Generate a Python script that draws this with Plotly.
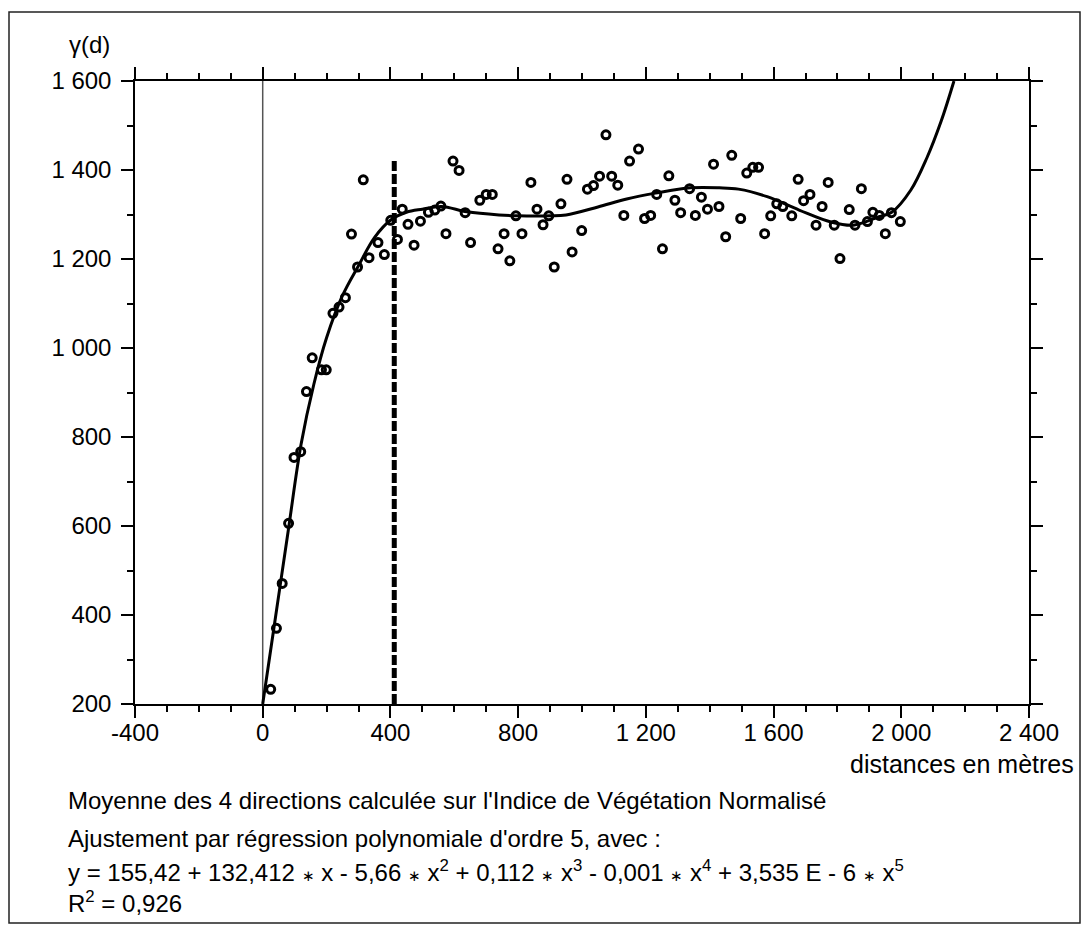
import plotly.graph_objects as go

# ---------------- data ----------------
lag_m = [25, 43, 61, 81, 98, 119, 137, 155, 184, 199,
         220, 239, 259, 278, 297, 315, 333, 361, 381, 401,
         422, 437, 455, 474, 494, 519, 539, 558, 574, 596,
         615, 634, 651, 680, 700, 719, 737, 756, 774, 793,
         812, 840, 859, 878, 896, 913, 934, 953, 969, 999,
         1017, 1036, 1055, 1075, 1093, 1112, 1131, 1149, 1177, 1196,
         1215, 1234, 1252, 1272, 1291, 1309, 1337, 1355, 1374, 1393,
         1412, 1429, 1450, 1469, 1497, 1516, 1535, 1553, 1572, 1591,
         1610, 1629, 1657, 1677, 1694, 1714, 1733, 1752, 1771, 1790,
         1808, 1837, 1855, 1875, 1894, 1911, 1931, 1950, 1969, 1997]
gamma = [233, 370, 471, 606, 754, 767, 902, 978, 951, 951,
         1078, 1092, 1113, 1256, 1182, 1378, 1203, 1237, 1210, 1287,
         1244, 1312, 1278, 1231, 1285, 1305, 1310, 1319, 1257, 1420,
         1399, 1304, 1237, 1332, 1345, 1345, 1223, 1257, 1196, 1297,
         1257, 1372, 1312, 1277, 1297, 1182, 1324, 1379, 1216, 1264,
         1357, 1365, 1386, 1479, 1386, 1366, 1298, 1420, 1447, 1291,
         1298, 1345, 1223, 1387, 1332, 1304, 1358, 1298, 1339, 1312,
         1413, 1318, 1250, 1433, 1291, 1393, 1406, 1406, 1257, 1297,
         1324, 1318, 1297, 1379, 1331, 1345, 1276, 1318, 1372, 1276,
         1201, 1311, 1276, 1358, 1284, 1305, 1298, 1257, 1304, 1284]

# fitted polynomial curve
fit_x = [0, 40, 80, 120, 160, 200, 250, 300, 350, 400, 450, 500, 560, 640,
         740, 800, 900, 950, 1050, 1140, 1230, 1340, 1430, 1490, 1580, 1680,
         1780, 1850, 1930, 1970, 2030, 2080, 2125, 2165]
fit_y = [200, 395, 590, 783, 918, 1023, 1118, 1185, 1248, 1287, 1305, 1312,
         1318, 1306, 1299, 1297, 1297, 1299, 1317, 1335, 1348, 1360, 1360,
         1357, 1340, 1310, 1283, 1276, 1295, 1305, 1355, 1427, 1510, 1600]

zero_x = 0          # vertical reference line at origin
range_x = 412       # range of the variogram (dashed line)
range_top = 1425

x_tickvals = [-400, 0, 400, 800, 1200, 1600, 2000, 2400]
x_ticktext = ["-400", "0", "400", "800", "1 200", "1 600", "2 000", "2 400"]
y_tickvals = [200, 400, 600, 800, 1000, 1200, 1400, 1600]
y_ticktext = ["200", "400", "600", "800", "1 000", "1 200", "1 400", "1 600"]

FONT = "Liberation Sans"
TICK_SIZE = 24
TEXT_SIZE = 24

fig = go.Figure()

fig.add_trace(go.Scatter(x=[zero_x, zero_x], y=[200, 1600], mode="lines",
                         line=dict(color="#555555", width=1.5),
                         hoverinfo="skip", showlegend=False))
fig.add_trace(go.Scatter(x=[range_x, range_x], y=[200, range_top], mode="lines",
                         line=dict(color="black", width=5, dash="10px,3px"),
                         hoverinfo="skip", showlegend=False))
fig.add_trace(go.Scatter(x=lag_m, y=gamma, mode="markers",
                         marker=dict(symbol="circle-open", size=8, color="black",
                                     line=dict(width=3, color="black")),
                         showlegend=False))
fig.add_trace(go.Scatter(x=fit_x, y=fit_y, mode="lines",
                         line=dict(color="black", width=3, shape="spline", smoothing=1.0),
                         showlegend=False))

axis_common = dict(showline=True, linecolor="black", linewidth=1.5, mirror="allticks",
                   ticks="outside", ticklen=12, tickwidth=1.5, tickcolor="black",
                   showgrid=False, zeroline=False,
                   tickfont=dict(family=FONT, size=TICK_SIZE, color="black"))

fig.update_xaxes(range=[-400, 2400], tickvals=x_tickvals, ticktext=x_ticktext,
                 minor=dict(dtick=100, tick0=0, ticks="outside", ticklen=6,
                            tickwidth=1.5, tickcolor="black", showgrid=False),
                 ticklabelstandoff=-6,
                 **axis_common)
fig.update_yaxes(range=[200, 1600], tickvals=y_tickvals, ticktext=y_ticktext,
                 minor=dict(dtick=100, tick0=0, ticks="outside", ticklen=6,
                            tickwidth=1.5, tickcolor="black", showgrid=False),
                 ticklabelstandoff=5,
                 **axis_common)

OFF = 8   # page body margin
W, H = 1081, 924
L, R, T, B = 127, 60, 73, 228
pw, ph = W - L - R, H - T - B


def px_x(p):
    return (p - OFF - L) / pw


def px_y(p):
    return (H - B - (p - OFF)) / ph


fig.add_shape(type="rect", xref="paper", yref="paper",
              x0=px_x(9), x1=px_x(1080), y0=px_y(923), y1=px_y(12),
              line=dict(color="#222222", width=1.5), fillcolor="rgba(0,0,0,0)")

tf = dict(family=FONT, size=TEXT_SIZE, color="black")
fig.add_annotation(text="γ(d)", xref="paper", yref="paper", x=px_x(112), y=px_y(45),
                   xanchor="right", yanchor="middle", showarrow=False, font=tf)
fig.add_annotation(text="distances en mètres", xref="paper", yref="paper",
                   x=px_x(1076), y=px_y(764), xanchor="right", yanchor="middle",
                   showarrow=False, font=dict(family=FONT, size=25, color="black"))

star = "<span style='font-size:15px'>∗</span>"
eq = ("y = 155,42 + 132,412 " + star + " x - 5,66 " + star + " x<sup>2</sup> + 0,112 "
      + star + " x<sup>3</sup> - 0,001 " + star + " x<sup>4</sup> + 3,535 E - 6 "
      + star + " x<sup>5</sup>")
lines = [
    ("Moyenne des 4 directions calculée sur l'Indice de Végétation Normalisé", 800),
    ("Ajustement par régression polynomiale d'ordre 5, avec :", 838),
    (eq, 871),
    ("R<sup>2</sup> = 0,926", 902),
]
for txt, yy in lines:
    fig.add_annotation(text=txt, xref="paper", yref="paper", x=px_x(66), y=px_y(yy),
                       xanchor="left", yanchor="middle", showarrow=False, font=tf)

fig.update_layout(width=W, height=H, margin=dict(l=L, r=R, t=T, b=B),
                  plot_bgcolor="white", paper_bgcolor="white",
                  font=dict(family=FONT, size=TEXT_SIZE, color="black"),
                  showlegend=False)

fig.write_html("out.html")
